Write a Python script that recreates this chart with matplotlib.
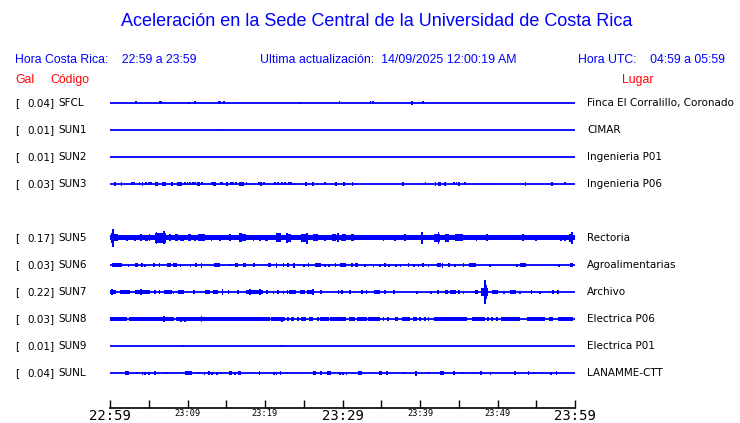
import matplotlib
matplotlib.use("Agg")
import matplotlib.pyplot as plt
from matplotlib.transforms import blended_transform_factory

# station rows (SUN4 slot left empty)
codes = ["SFCL", "SUN1", "SUN2", "SUN3", None, "SUN5", "SUN6", "SUN7", "SUN8", "SUN9", "SUNL"]
gal = ["0.04", "0.01", "0.01", "0.03", None, "0.17", "0.03", "0.22", "0.03", "0.01", "0.04"]
places = ["Finca El Corralillo, Coronado", "CIMAR", "Ingenieria P01", "Ingenieria P06", None,
          "Rectoria", "Agroalimentarias", "Archivo", "Electrica P06", "Electrica P01", "LANAMME-CTT"]

tick_minutes = [0, 10, 20, 30, 40, 50, 60]
tick_labels = ["22:59", "23:09", "23:19", "23:29", "23:39", "23:49", "23:59"]
big_labels = ["22:59", "23:29", "23:59"]

# bursts: (minute, half amplitude in px, width in minutes)
bursts = {
    "SFCL": [(3.4, 1.5, 0.15), (6.5, 1.5, 0.3), (10.2, 1, 0.1), (11.0, 1.5, 0.1), (14.1, 1.5, 0.4),
             (14.7, 1.5, 0.15), (24.5, 1, 0.1), (29.6, 1.5, 0.1), (33.6, 1.5, 0.12), (33.9, 1.5, 0.12),
             (39.0, 2, 0.1), (40.4, 1.5, 0.1)],
    "SUN1": [(14.0, 1, 0.1)],
    "SUN2": [],
    "SUN3": [(0.65, 2, 0.2), (1.5, 2, 0.15), (2.8, 1.5, 0.1), (3.1, 1.5, 0.1), (3.8, 1.5, 0.1), (4.2, 2, 0.15),
             (4.6, 1.5, 0.1), (5.0, 1.5, 0.1), (5.3, 1.5, 0.1), (6.0, 2, 0.5), (7.0, 2, 0.5), (8.0, 2, 0.2),
             (9.0, 2, 0.6), (9.7, 1.5, 0.1), (10.0, 1.5, 0.1), (10.3, 1.5, 0.1), (10.7, 1.5, 0.1), (11.0, 1.5, 0.1),
             (11.4, 2, 0.3), (11.9, 1.5, 0.1), (13.2, 1.5, 0.1), (13.5, 2, 0.3), (14.3, 1.5, 0.1), (14.5, 1.5, 0.1),
             (15.1, 2, 0.3), (15.6, 1.5, 0.15), (15.9, 1.5, 0.1), (16.3, 1.5, 0.1), (17.0, 2, 0.7), (17.6, 1.5, 0.1),
             (18.0, 1, 0.1), (18.4, 1, 0.1), (19.2, 1.5, 0.1), (19.5, 2, 0.25), (19.9, 1.5, 0.1), (21.3, 1.5, 0.1),
             (21.7, 1.5, 0.1), (22.2, 1.5, 0.1), (22.6, 1.5, 0.1), (23.1, 1.5, 0.1), (23.4, 1.5, 0.1), (23.9, 1, 0.1),
             (25.3, 2, 0.3), (26.2, 2, 0.3), (27.7, 1.5, 0.1), (29.2, 2, 0.3), (30.2, 2, 0.3), (31.3, 2, 0.12),
             (37.8, 2, 0.2), (40.7, 1.5, 0.1), (42.0, 2, 0.15), (42.5, 2, 0.3), (43.2, 2, 0.2), (44.4, 1.5, 0.1),
             (44.7, 1.5, 0.1), (45.0, 2, 0.2), (45.8, 1.5, 0.1), (47.7, 1, 0.1), (49.1, 1, 0.1), (53.6, 2, 0.2),
             (57.0, 2, 0.2), (58.7, 1.5, 0.15), (59.3, 1, 0.1)],
    "SUN5": [(30, 2.5, 60), (0.3, 5, 0.3), (0.43, 9, 0.12), (0.8, 3.5, 0.5), (2.2, 3, 0.3), (3.2, 3, 0.15),
             (4.0, 3.5, 0.3), (4.7, 3, 0.4), (5.1, 3.5, 0.15), (6.0, 6, 0.15), (6.5, 5, 1.4), (7.0, 6.5, 0.15),
             (7.7, 3.5, 0.2), (8.6, 3.5, 0.3), (9.3, 3, 0.6), (10.2, 3.5, 0.4), (11.0, 3, 0.15), (11.8, 3.5, 0.8),
             (13.1, 3, 0.15), (14.2, 3, 0.15), (15.5, 3.5, 0.2), (16.8, 4.5, 0.4), (17.3, 3.5, 0.6), (18.5, 3, 0.15),
             (19.4, 3, 0.15), (20.2, 3, 0.4), (21.7, 4.5, 0.6), (22.8, 5, 0.15), (23.1, 4, 0.5), (24.9, 3.5, 0.4),
             (25.4, 5.5, 0.2), (25.1, 4, 0.8), (26.5, 3.5, 0.7), (27.7, 3, 0.15), (28.9, 3.5, 0.4), (29.4, 4.5, 0.2),
             (29.9, 3, 0.15), (30.2, 3.5, 0.5), (31.3, 3.5, 0.4), (35.3, 3, 0.15), (36.8, 3, 0.15), (38.1, 3.5, 0.3),
             (40.3, 6, 0.15), (42.2, 4, 0.7), (42.4, 6, 0.15), (43.5, 4, 0.6), (45.0, 3.5, 1.0), (47.3, 3, 0.15),
             (48.6, 3.5, 0.2), (50.3, 2.5, 0.15), (53.3, 3.5, 0.3), (55.0, 3, 0.15), (58.2, 3, 0.15), (58.7, 3, 0.15),
             (59.5, 4, 0.5), (59.6, 6, 0.15)],
    "SUN6": [(0.9, 1.8, 1.2), (2.4, 1.5, 0.15), (3.4, 1.8, 0.3), (4.1, 1.8, 0.15), (4.5, 1.5, 0.1),
             (5.7, 1.8, 0.2), (6.4, 1.8, 0.2), (7.6, 1.8, 0.5), (8.4, 1.8, 0.6), (9.1, 1.5, 0.2), (10.4, 1.5, 0.15),
             (11.1, 1.8, 0.2), (11.8, 2.5, 0.15), (13.8, 1.8, 0.8), (15.5, 1, 0.1), (16.3, 1.8, 0.4),
             (17.4, 1.8, 0.4), (18.6, 1.8, 0.2), (20.6, 1.8, 0.3), (21.5, 2.5, 0.15), (22.4, 1.8, 0.15),
             (23.0, 1.8, 0.2), (23.7, 2.5, 0.2), (25.0, 1.5, 0.1), (25.6, 1.8, 0.2), (26.8, 1.8, 0.8),
             (27.7, 1.5, 0.15), (28.3, 1.5, 0.1), (29.1, 1.8, 0.2), (30.1, 1.8, 0.8), (31.2, 1.8, 0.2),
             (31.8, 1.8, 0.3), (32.9, 1.5, 0.15), (34.0, 1.5, 0.15), (34.8, 1.5, 0.1), (35.5, 1.8, 0.2),
             (36.0, 1.5, 0.1), (36.9, 1.5, 0.1), (37.5, 1.5, 0.15), (38.5, 1.8, 0.15), (39.2, 1.5, 0.1),
             (39.8, 1.5, 0.1), (40.4, 1.8, 0.2), (41.1, 1.5, 0.1), (42.4, 1.8, 0.5), (42.9, 2.5, 0.15),
             (43.7, 1.8, 0.2), (44.5, 1.5, 0.15), (45.6, 1.8, 0.2), (46.8, 1.8, 0.9), (49.0, 1.5, 0.1),
             (52.5, 1.5, 0.1), (53.3, 1.8, 0.7), (57.9, 1.5, 0.1), (59.6, 1.8, 0.4)],
    "SUN7": [(0.4, 2, 0.8), (0.3, 3, 0.12), (1.9, 2, 1.3), (4.2, 2, 2.0), (4.0, 3, 0.12), (5.8, 1.8, 0.15),
             (6.4, 1.8, 0.2), (7.5, 2, 1.0), (8.2, 1.5, 0.1), (9.2, 2, 0.8), (10.8, 1.8, 0.2), (12.6, 2, 0.6),
             (13.6, 2, 0.6), (14.5, 3, 0.2), (15.3, 2, 0.2), (16.5, 1.8, 0.2), (18.7, 2, 2.2), (18.1, 3, 0.12),
             (19.4, 3, 0.12), (20.3, 1.8, 0.2), (21.1, 1.5, 0.1), (21.7, 1.8, 0.2), (22.4, 1.5, 0.1),
             (22.9, 1.8, 0.2), (23.6, 2, 0.9), (24.8, 2, 0.6), (25.8, 2, 0.8), (26.2, 3, 0.15), (27.2, 1.8, 0.2),
             (29.5, 1.8, 0.2), (29.9, 1.8, 0.2), (31.0, 2, 0.3), (32.5, 1.8, 0.2), (33.1, 1.8, 0.2),
             (34.4, 2, 0.8), (35.5, 1.8, 0.2), (36.6, 1.8, 0.2), (39.6, 1.5, 0.15), (41.4, 1.5, 0.15),
             (42.3, 2, 0.3), (43.4, 2, 0.4), (44.3, 2, 0.8), (45.0, 2, 0.15), (45.6, 1.5, 0.1), (47.3, 2, 0.4),
             (48.3, 4, 0.9), (48.4, 12, 0.12), (48.55, 7, 0.12), (49.7, 2, 0.8), (50.8, 1.5, 0.1),
             (52.0, 2, 0.8), (52.9, 1.5, 0.1), (54.4, 1.8, 0.2), (55.5, 1.5, 0.1), (57.2, 1.8, 0.2),
             (57.8, 1.8, 0.2)],
    "SUN8": [(1.1, 2.2, 2.2), (5.3, 2.2, 5.8), (13.3, 2.2, 9.6), (9.2, 2.5, 0.2), (9.7, 2.5, 0.2),
             (7.0, 3, 0.12), (11.8, 3, 0.12), (19.4, 1.8, 2.6), (21.7, 2.2, 1.8), (22.2, 2.5, 0.12),
             (23.0, 1.6, 0.3), (23.6, 1.6, 0.4), (24.3, 1.6, 0.3), (25.0, 1.6, 0.6), (25.9, 1.6, 0.5),
             (26.8, 1.6, 0.3), (27.7, 1.8, 1.2), (29.1, 1.8, 1.4), (30.1, 1.6, 0.8), (31.2, 1.6, 0.8),
             (32.5, 1.6, 1.3), (34.1, 1.6, 1.5), (35.3, 1.6, 0.15), (35.9, 1.6, 0.15), (37.0, 1.6, 0.4),
             (38.2, 1.6, 1.1), (39.4, 1.6, 0.5), (40.0, 1.6, 0.15), (40.6, 1.6, 0.15), (41.1, 1.6, 0.15),
             (43.9, 1.8, 4.3), (47.6, 1.6, 1.7), (48.8, 1.6, 0.15), (49.3, 1.6, 0.15), (49.9, 1.6, 0.15),
             (51.7, 1.6, 2.4), (55.0, 1.6, 2.3), (56.9, 1.6, 0.6), (58.8, 1.8, 2.0)],
    "SUN9": [(9.5, 1, 0.1), (22.2, 1, 0.1)],
    "SUNL": [(2.2, 1.8, 0.5), (3.5, 1.2, 0.1), (4.2, 1.5, 0.1), (4.5, 1.5, 0.1), (5.0, 1.5, 0.1),
             (5.8, 1.8, 0.2), (7.2, 1.2, 0.1), (10.1, 1.8, 0.9), (11.4, 1.2, 0.1), (12.2, 1.5, 0.15),
             (12.8, 1.8, 0.2), (13.2, 1.5, 0.1), (13.8, 1.5, 0.15), (14.3, 1.2, 0.1), (15.5, 1.8, 0.4),
             (16.1, 1.5, 0.1), (16.7, 1.8, 0.4), (19.3, 1.8, 0.2), (21.2, 1.5, 0.1), (21.5, 1.5, 0.1),
             (22.0, 1.8, 0.2), (22.8, 1.2, 0.1), (26.4, 1.8, 0.3), (27.2, 1.8, 0.3), (28.3, 1.8, 0.5),
             (29.7, 1.5, 0.1), (30.1, 1.5, 0.1), (30.5, 1.5, 0.1), (31.3, 1.2, 0.1), (32.3, 1.8, 0.5),
             (34.9, 1.8, 0.3), (35.7, 1.8, 0.2), (37.9, 1.2, 0.1), (39.5, 2.5, 0.15), (41.2, 1.2, 0.1),
             (42.8, 1.8, 0.5), (44.4, 1.8, 0.15), (45.4, 1.2, 0.1), (46.9, 1.2, 0.1), (47.9, 1.8, 0.3),
             (49.1, 1.5, 0.1), (52.3, 2, 0.2), (54.0, 1.8, 0.2), (54.7, 1.2, 0.1), (55.8, 1.2, 0.1),
             (56.9, 1.5, 0.15), (57.6, 1.8, 0.2)],
}

blue = "#0000ff"
W, H = 740, 423
fig = plt.figure(figsize=(W / 100, H / 100), dpi=100)

# trace area: 110..575 px wide, axis line at y=408 px
row_px = 27.0
top_px, bot_px, first_row_px = 90, 408, 103
ax = fig.add_axes([110 / W, 1 - bot_px / H, (575 - 110) / W, (bot_px - top_px) / H])
ax.set_xlim(0, 60)
ax.set_ylim((bot_px - first_row_px) / row_px, (top_px - first_row_px) / row_px)

for i, code in enumerate(codes):
    if code is None:
        continue
    ax.hlines(i, 0, 60, color=blue, lw=1.3)
    for m, h, w in bursts[code]:
        hh = h / row_px
        ax.bar(m, 2 * hh, width=max(w, 0.22), bottom=i - hh, color=blue, linewidth=0,
               align="center", antialiased=False)

for s in ["top", "left", "right"]:
    ax.spines[s].set_visible(False)
ax.spines["bottom"].set_linewidth(1.2)
ax.set_yticks([])
ax.set_xticks(tick_minutes)
ax.set_xticks([5, 15, 25, 35, 45, 55], minor=True)
ax.set_xticklabels(tick_labels)
ax.tick_params(axis="x", which="both", direction="in", length=6, width=1, pad=0.5)
for lab in ax.get_xticklabels():
    lab.set_family("DejaVu Sans Mono")
    lab.set_fontsize(10 if lab.get_text() in big_labels else 6.2)

# row labels
tr = blended_transform_factory(fig.transFigure, ax.transData)
for i, code in enumerate(codes):
    if code is None:
        continue
    ax.text(15 / W, i, "[", transform=tr, fontsize=7.5, va="center", ha="left")
    ax.text(55 / W, i, gal[i] + "]", transform=tr, fontsize=7.5, va="center", ha="right")
    ax.text(58 / W, i, code, transform=tr, fontsize=7.5, va="center", ha="left")
    ax.text(587 / W, i, places[i], transform=tr, fontsize=7.5, va="center", ha="left")

# header texts
hf = "Liberation Sans"
fig.text(377 / W, 1 - 22 / H, "Aceleración en la Sede Central de la Universidad de Costa Rica",
         ha="center", va="center", color=blue, fontsize=13, family=hf)
fig.text(15 / W, 1 - 60 / H, "Hora Costa Rica:    22:59 a 23:59", ha="left", va="center",
         color=blue, fontsize=8.8, family=hf)
fig.text(260 / W, 1 - 60 / H, "Ultima actualización:  14/09/2025 12:00:19 AM", ha="left", va="center",
         color=blue, fontsize=8.9, family=hf)
fig.text(725 / W, 1 - 60 / H, "Hora UTC:    04:59 a 05:59", ha="right", va="center",
         color=blue, fontsize=8.8, family=hf)
fig.text(15 / W, 1 - 80 / H, "Gal", ha="left", va="center", color="red", fontsize=8.8, family=hf)
fig.text(50 / W, 1 - 80 / H, "Código", ha="left", va="center", color="red", fontsize=8.8, family=hf)
fig.text(622 / W, 1 - 80 / H, "Lugar", ha="left", va="center", color="red", fontsize=8.8, family=hf)

fig.savefig("out.png", dpi=100)
